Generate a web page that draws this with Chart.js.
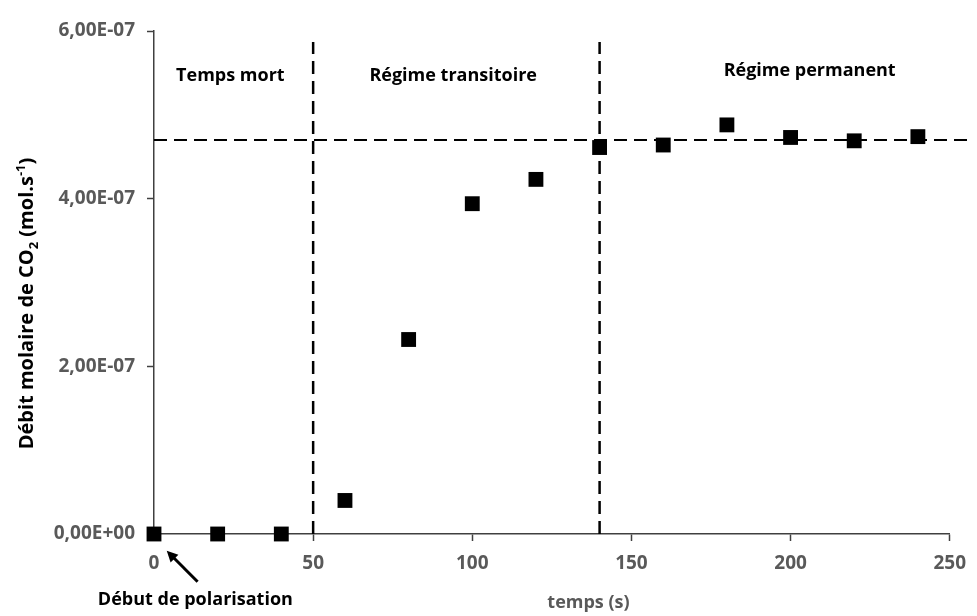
<!DOCTYPE html>
<html>
<head>
<meta charset="utf-8">
<script src="https://cdn.jsdelivr.net/npm/chart.js@4/dist/chart.umd.min.js"></script>
<style>
  body { margin: 0; background: #fff; }
</style>
</head>
<body>
<canvas id="chart" width="977" height="616"></canvas>
<script>
// data (mol/s vs s)
var times = [0, 20, 40, 60, 80, 100, 120, 140, 160, 180, 200, 220, 240];
var co2Rate = [0, 0, 0, 0.40e-7, 2.32e-7, 3.94e-7, 4.23e-7, 4.61e-7, 4.64e-7, 4.88e-7, 4.73e-7, 4.69e-7, 4.74e-7];
var yTickLabels = ['0,00E+00', '2,00E-07', '4,00E-07', '6,00E-07'];

// guide lines
var deadTimeEnd = 50;
var steadyStart = 140;
var steadyLevel = 4.70e-7;
var guideTop = 5.87e-7;

// text annotations, in data units
var zoneLabels = ['Temps mort', 'Régime transitoire', 'Régime permanent'];
var zoneLabelX = [24, 94, 206];
var zoneLabelY = [5.47e-7, 5.47e-7, 5.53e-7];
var startLabel = 'Début de polarisation';
var startLabelPos = [13, -0.79e-7];
var arrowFrom = [13.7, -0.57e-7];
var arrowTo = [4.0, -0.20e-7];
var xTitle = 'temps (s)';
var xTitlePos = [136.5, -0.82e-7];

var FAMILY = '"Open Sans"';
var GREY = '#595959';

var points = times.map(function (t, i) {
    return { x: t, y: co2Rate[i] };
});

var annotations = {
    id: 'annotations',
    afterDatasetsDraw: function (chart) {
        var ctx = chart.ctx;
        var xs = chart.scales.x;
        var ys = chart.scales.y;
        ctx.save();
        ctx.font = 'bold 18px ' + FAMILY;
        ctx.textAlign = 'center';
        ctx.textBaseline = 'middle';

        ctx.fillStyle = '#000';
        zoneLabels.forEach(function (txt, i) {
            ctx.fillText(txt, xs.getPixelForValue(zoneLabelX[i]), ys.getPixelForValue(zoneLabelY[i]));
        });
        ctx.fillText(startLabel, xs.getPixelForValue(startLabelPos[0]), ys.getPixelForValue(startLabelPos[1]));

        ctx.fillStyle = GREY;
        ctx.fillText(xTitle, xs.getPixelForValue(xTitlePos[0]), ys.getPixelForValue(xTitlePos[1]));

        // arrow
        var x1 = xs.getPixelForValue(arrowFrom[0]), y1 = ys.getPixelForValue(arrowFrom[1]);
        var x2 = xs.getPixelForValue(arrowTo[0]), y2 = ys.getPixelForValue(arrowTo[1]);
        var ang = Math.atan2(y2 - y1, x2 - x1);
        ctx.strokeStyle = '#000';
        ctx.fillStyle = '#000';
        ctx.lineWidth = 3;
        ctx.beginPath();
        ctx.moveTo(x1, y1);
        ctx.lineTo(x2 - 6 * Math.cos(ang), y2 - 6 * Math.sin(ang));
        ctx.stroke();
        ctx.beginPath();
        ctx.moveTo(x2, y2);
        ctx.lineTo(x2 - 11 * Math.cos(ang) + 5.5 * Math.sin(ang), y2 - 11 * Math.sin(ang) - 5.5 * Math.cos(ang));
        ctx.lineTo(x2 - 11 * Math.cos(ang) - 5.5 * Math.sin(ang), y2 - 11 * Math.sin(ang) + 5.5 * Math.cos(ang));
        ctx.closePath();
        ctx.fill();

        // y title with subscript / superscript
        var parts = [
            ['Débit molaire de CO', 0, 20],
            ['2', 5, 13],
            [' (mol.s', 0, 20],
            ['-1', -8, 13],
            [')', 0, 20]
        ];
        var total = 0;
        parts.forEach(function (p) {
            ctx.font = 'bold ' + p[2] + 'px ' + FAMILY;
            total += ctx.measureText(p[0]).width;
        });
        var cy = (chart.chartArea.top + chart.chartArea.bottom) / 2 + 21;
        ctx.translate(33, cy);
        ctx.rotate(-Math.PI / 2);
        ctx.fillStyle = '#000';
        ctx.textAlign = 'left';
        ctx.textBaseline = 'alphabetic';
        var pos = -total / 2;
        parts.forEach(function (p) {
            ctx.font = 'bold ' + p[2] + 'px ' + FAMILY;
            ctx.fillText(p[0], pos, p[1]);
            pos += ctx.measureText(p[0]).width;
        });
        ctx.restore();
    }
};

new Chart(document.getElementById('chart'), {
    type: 'scatter',
    data: {
        datasets: [{
            label: 'CO2',
            data: points,
            pointStyle: 'rect',
            pointRadius: 10.5,
            pointBackgroundColor: '#000',
            pointBorderWidth: 0,
            clip: false,
            order: 0
        }, {
            label: 'fin temps mort',
            data: [{ x: deadTimeEnd, y: 0 }, { x: deadTimeEnd, y: guideTop }],
            showLine: true,
            borderColor: '#000',
            borderWidth: 2.5,
            borderDash: [13, 7],
            pointRadius: 0,
            order: 1
        }, {
            label: 'debut permanent',
            data: [{ x: steadyStart, y: 0 }, { x: steadyStart, y: guideTop }],
            showLine: true,
            borderColor: '#000',
            borderWidth: 2.5,
            borderDash: [13, 7],
            pointRadius: 0,
            order: 1
        }, {
            label: 'palier',
            data: [{ x: 0, y: steadyLevel }, { x: 256, y: steadyLevel }],
            showLine: true,
            borderColor: '#000',
            borderWidth: 2.2,
            borderDash: [13, 7],
            pointRadius: 0,
            clip: false,
            order: 1
        }]
    },
    options: {
        responsive: false,
        animation: false,
        layout: { padding: { top: 31, right: 20, left: 0, bottom: 0 } },
        plugins: {
            legend: { display: false },
            tooltip: { enabled: false }
        },
        scales: {
            x: {
                type: 'linear',
                min: 0,
                max: 250,
                afterFit: function (s) { s.height = 82; },
                border: { color: '#404040', width: 1.5 },
                grid: { drawOnChartArea: false, tickLength: 7, tickColor: '#404040', tickWidth: 1.5 },
                ticks: { stepSize: 50, color: GREY, font: { family: 'Open Sans', size: 19, weight: 'bold' }, padding: 11 }
            },
            y: {
                min: 0,
                max: 6e-7,
                afterFit: function (s) { s.width = 154; },
                border: { color: '#404040', width: 1.5 },
                grid: { drawOnChartArea: false, tickLength: 7, tickColor: '#404040', tickWidth: 1.5 },
                ticks: {
                    stepSize: 2e-7,
                    color: GREY,
                    font: { family: 'Open Sans', size: 19, weight: 'bold' },
                    padding: 12,
                    callback: function (v, i) { return yTickLabels[i]; }
                }
            }
        }
    },
    plugins: [annotations]
});
</script>
</body>
</html>
